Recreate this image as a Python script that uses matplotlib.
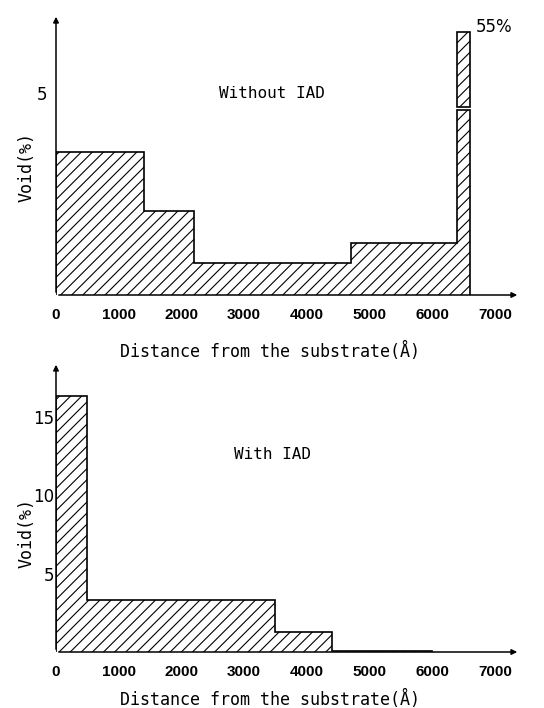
import matplotlib
matplotlib.use("Agg")
import matplotlib.pyplot as plt
import numpy as np

# ---------------- data ----------------
top_edges = [0, 1400, 2200, 4700, 6400, 6600]
top_void = [3.54, 2.08, 0.79, 1.29, 55]          # last bin truncated on the plot, labelled 55%
top_label_tall = "55%"
top_title = "Without IAD"

bot_edges = [0, 500, 3500, 4400, 6000]
bot_void = [16.3, 3.3, 1.27, 0.08]
bot_title = "With IAD"

x_ticks = [0, 1000, 2000, 3000, 4000, 5000, 6000, 7000]
x_ticklabels = [str(t) for t in x_ticks]
top_yticks = [5]
bot_yticks = [5, 10, 15]
xlabel = "Distance from the substrate(Å)"
ylabel = "Void(%)"

# ---------------- style ----------------
plt.rcParams['hatch.linewidth'] = 0.8
MONO = ['DejaVu Sans Mono', 'DejaVu Sans']
TICKF = ['Liberation Sans Narrow', 'Liberation Sans', 'DejaVu Sans']

fig = plt.figure(figsize=(5.44, 7.08), dpi=100)
W, H = 544, 708

def px_axes(left, right, top, bottom):
    return fig.add_axes([left / W, 1 - bottom / H, (right - left) / W, (bottom - top) / H])

ax1 = px_axes(56, 520, 14, 295)
ax2 = px_axes(56, 520, 362, 652)

def setup(ax, ylim, yticks, ypad, xl_y, yl_y):
    ax.set_xlim(0, 7400)
    ax.set_ylim(0, ylim)
    for s in ax.spines.values():
        s.set_visible(False)
    ax.set_xticks(x_ticks)
    ax.set_xticklabels(x_ticklabels, fontfamily=TICKF, fontsize=11, fontweight='bold')
    ax.set_yticks(yticks)
    ax.set_yticklabels([str(t) for t in yticks], fontfamily=['DejaVu Sans'], fontsize=12)
    ax.tick_params(axis='x', length=0, pad=9)
    ax.tick_params(axis='y', length=0, pad=ypad)
    ax.set_xlabel(xlabel, fontfamily=MONO, fontsize=12)
    ax.set_ylabel(ylabel, fontfamily=MONO, fontsize=12)
    ax.xaxis.set_label_coords(0.461, xl_y)
    ax.yaxis.set_label_coords(-0.045, yl_y)
    # arrow axes
    ax.annotate('', xy=(0, 1), xytext=(0, 0), xycoords='axes fraction',
                arrowprops=dict(arrowstyle='-|>', lw=1.1, color='k', mutation_scale=8))
    ax.annotate('', xy=(1, 0), xytext=(0, 0), xycoords='axes fraction',
                arrowprops=dict(arrowstyle='-|>', lw=1.1, color='k', mutation_scale=8))

setup(ax1, 6.95, top_yticks, 6, -0.168, 0.455)
setup(ax2, 18.5, bot_yticks, 1, -0.132, 0.41)

# ---- top panel ----
cap_low, cap_high, cap_top = 4.58, 4.66, 6.5
disp = list(top_void)
disp[-1] = cap_low
ax1.stairs(disp, top_edges, fill=True, facecolor='white', edgecolor='k',
           hatch='///', linewidth=1.2, baseline=0)
ax1.bar(top_edges[-2], cap_top - cap_high, bottom=cap_high,
        width=top_edges[-1] - top_edges[-2], align='edge',
        facecolor='white', edgecolor='k', hatch='///', linewidth=1.2)
ax1.text(top_edges[-1] + 100, 6.62, top_label_tall, fontsize=12,
         fontfamily=['DejaVu Sans'], va='center', ha='left')
ax1.text(3450, 4.98, top_title, fontsize=11.5, fontfamily=MONO, ha='center', va='center')

# ---- bottom panel ----
ax2.stairs(bot_void, bot_edges, fill=True, facecolor='white', edgecolor='k',
           hatch='///', linewidth=1.2, baseline=0)
ax2.text(3450, 12.6, bot_title, fontsize=11.5, fontfamily=MONO, ha='center', va='center')

fig.savefig("out.png", dpi=100)
